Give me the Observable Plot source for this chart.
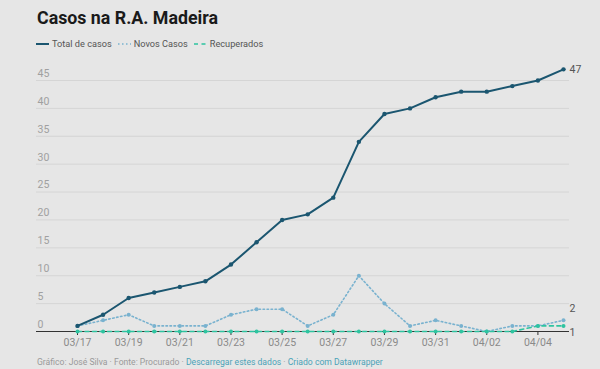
<!DOCTYPE html>
<html>
<head>
<meta charset="utf-8">
<script src="https://cdn.jsdelivr.net/npm/d3@7"></script>
<script src="https://cdn.jsdelivr.net/npm/@observablehq/plot@0.6"></script>
<style>
  html, body { margin: 0; padding: 0; }
  body {
    width: 600px; height: 369px; overflow: hidden; position: relative;
    background: #e6e6e6; font-family: Roboto, "Noto Sans", sans-serif;
  }
  #title {
    position: absolute; left: 37px; top: 7px;
    font-size: 17.8px; font-weight: 700; color: #1a1a1a;
  }
  #legend {
    position: absolute; left: 36px; top: 38px; display: flex; align-items: center;
    font-size: 9.2px; color: #555;
  }
  #legend .item { display: flex; align-items: center; margin-right: 6px; }
  #legend svg { margin-right: 3px; }
  #chart { position: absolute; left: 0; top: 56px; }
  #footer {
    position: absolute; left: 37px; top: 357px; font-size: 8.6px; color: #9a9a9a; white-space: nowrap;
  }
  #footer .link { color: #4aa3b8; }
</style>
</head>
<body>
<div id="title">Casos na R.A. Madeira</div>
<div id="legend"></div>
<div id="chart"></div>
<div id="footer">Gráfico: José Silva · Fonte: Procurado · <span class="link">Descarregar estes dados</span> · <span class="link">Criado com Datawrapper</span></div>
<script>
// Daily series, 17 March to 5 April 2020
const dates = [
  "2020-03-17", "2020-03-18", "2020-03-19", "2020-03-20", "2020-03-21",
  "2020-03-22", "2020-03-23", "2020-03-24", "2020-03-25", "2020-03-26",
  "2020-03-27", "2020-03-28", "2020-03-29", "2020-03-30", "2020-03-31",
  "2020-04-01", "2020-04-02", "2020-04-03", "2020-04-04", "2020-04-05"
];
const totalCasos  = [1, 3, 6, 7, 8, 9, 12, 16, 20, 21, 24, 34, 39, 40, 42, 43, 43, 44, 45, 47];
const novosCasos  = [1, 2, 3, 1, 1, 1, 3, 4, 4, 1, 3, 10, 5, 1, 2, 1, 0, 1, 1, 2];
const recuperados = [0, 0, 0, 0, 0, 0, 0, 0, 0, 0, 0, 0, 0, 0, 0, 0, 0, 0, 1, 1];

const seriesNames = ["Total de casos", "Novos Casos", "Recuperados"];
const yTicks = [0, 5, 10, 15, 20, 25, 30, 35, 40, 45];
const xTickLabels = ["03/17", "03/19", "03/21", "03/23", "03/25", "03/27", "03/29", "03/31", "04/02", "04/04"];

const styles = {
  "Total de casos": {stroke: "#1b5670", width: 2, dash: null},
  "Novos Casos":    {stroke: "#79b2cf", width: 1.6, dash: "1.5 2.5"},
  "Recuperados":    {stroke: "#2ec4a0", width: 1.6, dash: "4 3.5"}
};
const labelDy = {"Total de casos": 0, "Novos Casos": -12, "Recuperados": 7};

const parse = d3.utcParse("%Y-%m-%d");
const fmt = d3.utcFormat("%m/%d");
const values = {"Total de casos": totalCasos, "Novos Casos": novosCasos, "Recuperados": recuperados};
const series = seriesNames.map(name => ({
  name,
  rows: dates.map((d, i) => ({date: parse(d), value: values[name][i]}))
}));
const xTicks = dates.map(parse).filter(d => xTickLabels.includes(fmt(d)));

// Legend
const legend = document.getElementById("legend");
for (const name of seriesNames) {
  const s = styles[name];
  const item = document.createElement("div");
  item.className = "item";
  item.innerHTML = `<svg width="13" height="4"><line x1="0" x2="13" y1="2" y2="2" stroke="${s.stroke}" stroke-width="${name === "Total de casos" ? 2 : 1.6}" ${s.dash ? `stroke-dasharray="${s.dash}"` : ""}/></svg><span>${name}</span>`;
  legend.appendChild(item);
}

const lineOrder = ["Novos Casos", "Recuperados", "Total de casos"];
const marks = [
  Plot.ruleY(yTicks.filter(v => v > 0), {stroke: "#d5d5d5", strokeWidth: 1, insetLeft: -41, insetRight: -6}),
  Plot.ruleY([0], {stroke: "#333", strokeWidth: 1, insetLeft: -41, insetRight: -6}),
  Plot.axisY(yTicks, {label: null, tickSize: 0, tickPadding: 0, textAnchor: "start", dx: -40, dy: -7, fill: "#a0a0a0", fontSize: 10.5}),
  Plot.axisX(xTicks, {label: null, tickSize: 4, tickPadding: 3, tickFormat: fmt, stroke: "#333", fill: "#8a8a8a", fontSize: 10.5})
];
for (const name of lineOrder) {
  const s = styles[name];
  const rows = series.find(d => d.name === name).rows;
  marks.push(Plot.line(rows, {x: "date", y: "value", stroke: s.stroke, strokeWidth: s.width, strokeDasharray: s.dash, curve: "linear"}));
  marks.push(Plot.dot(rows, {x: "date", y: "value", fill: s.stroke, r: name === "Total de casos" ? 2.2 : 2, stroke: "none"}));
}
for (const name of seriesNames) {
  const rows = series.find(d => d.name === name).rows;
  marks.push(Plot.text([rows[rows.length - 1]], {
    x: "date", y: "value", text: d => String(d.value),
    dx: 6, dy: labelDy[name], textAnchor: "start", fill: "#555", fontSize: 10.5
  }));
}

const chart = Plot.plot({
  width: 600,
  height: 300,
  marginLeft: 77,
  marginRight: 37,
  marginTop: 24,
  marginBottom: 25,
  style: {background: "transparent", fontFamily: "Roboto, 'Noto Sans', sans-serif", overflow: "visible"},
  x: {type: "utc", domain: [parse(dates[0]), parse(dates[dates.length - 1])], label: null},
  y: {domain: [0, 45], label: null},
  marks
});
document.getElementById("chart").appendChild(chart);
</script>
</body>
</html>
